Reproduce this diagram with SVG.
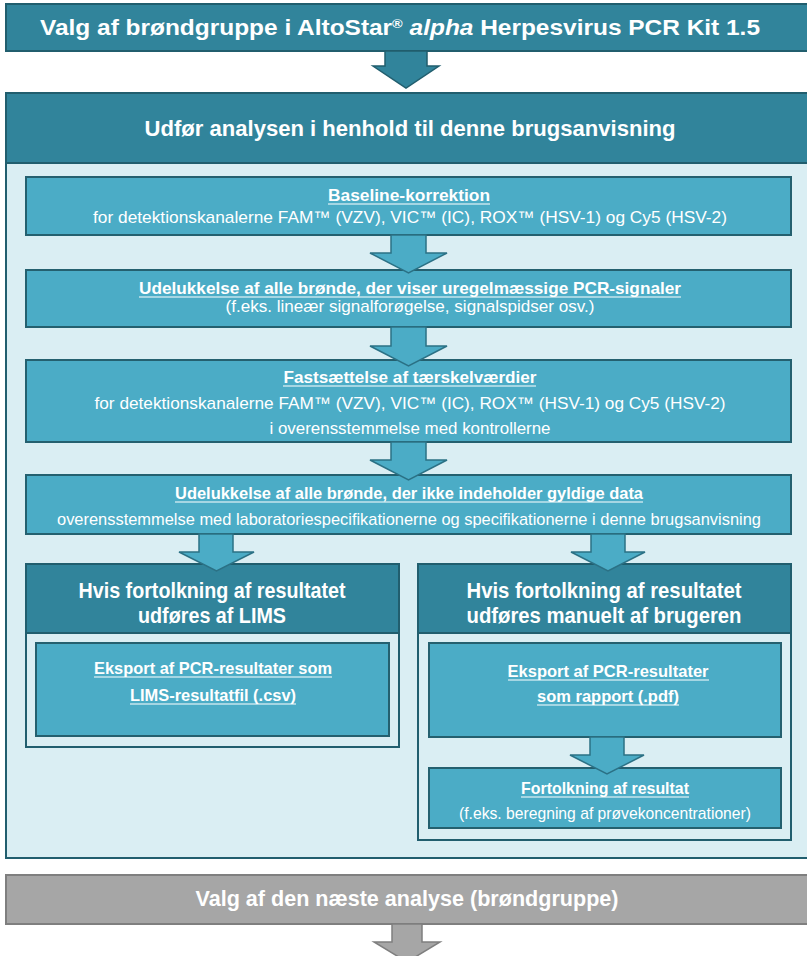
<svg xmlns="http://www.w3.org/2000/svg" width="807" height="956" viewBox="0 0 807 956">
<style>
.dark{fill:#31849B;stroke:#215E6E;stroke-width:2}
.mid{fill:#4BACC6;stroke:#24606F;stroke-width:2}
.light{fill:#DAEEF3;stroke:#215E6E;stroke-width:2}
.gray{fill:#A6A6A6;stroke:#7F7F7F;stroke-width:2}
.arr{fill:#4BACC6;stroke:#2B7185;stroke-width:1.5}
.arrd{fill:#31849B;stroke:#215E6E;stroke-width:1.5}
.arrg{fill:#A6A6A6;stroke:#7F7F7F;stroke-width:1.5}
text{font-family:"Liberation Sans Narrow","Liberation Sans",Arial,sans-serif;fill:#FFFFFF;text-anchor:middle}
.t{font-size:22px;font-weight:bold}
.h{font-size:22px;font-weight:bold}
.b{font-size:17px;font-weight:bold}
.r{font-size:17px}
.ul{stroke:#FFFFFF;stroke-width:1.2}
</style>
<rect width="807" height="956" fill="#FFFFFF"/>
<g id="title">
<rect class="dark" x="6" y="4" width="810" height="47"/>
<text class="t" x="400" y="35" textLength="720" lengthAdjust="spacingAndGlyphs">Valg af brøndgruppe i AltoStar<tspan font-size="13" dy="-7">®</tspan><tspan dy="7"> </tspan><tspan font-style="italic">alpha</tspan> Herpesvirus PCR Kit 1.5</text>
</g>
<g id="analysis">
<rect class="light" x="6" y="93" width="810" height="765"/>
<rect class="dark" x="6" y="93" width="810" height="70"/>
<text class="t" x="410" y="136" textLength="531" lengthAdjust="spacingAndGlyphs">Udfør analysen i henhold til denne brugsanvisning</text>
</g>
<g id="baseline">
<rect class="mid" x="26" y="177" width="765" height="58"/>
<text class="b" x="409" y="201" textLength="162" lengthAdjust="spacingAndGlyphs">Baseline-korrektion</text>
<line class="ul" x1="328" y1="204" x2="490" y2="204"/>
<text class="r" x="410" y="223" textLength="634" lengthAdjust="spacingAndGlyphs">for detektionskanalerne FAM™ (VZV), VIC™ (IC), ROX™ (HSV-1) og Cy5 (HSV-2)</text>
</g>
<g id="exclude-irregular">
<rect class="mid" x="26" y="270" width="765" height="57"/>
<text class="b" x="410" y="294" textLength="542" lengthAdjust="spacingAndGlyphs">Udelukkelse af alle brønde, der viser uregelmæssige PCR-signaler</text>
<line class="ul" x1="139" y1="297" x2="681" y2="297"/>
<text class="r" x="410" y="312" textLength="369" lengthAdjust="spacingAndGlyphs">(f.eks. lineær signalforøgelse, signalspidser osv.)</text>
</g>
<g id="threshold">
<rect class="mid" x="26" y="360" width="765" height="82"/>
<text class="b" x="410" y="383" textLength="253" lengthAdjust="spacingAndGlyphs">Fastsættelse af tærskelværdier</text>
<line class="ul" x1="283" y1="386" x2="536" y2="386"/>
<text class="r" x="410" y="409" textLength="631" lengthAdjust="spacingAndGlyphs">for detektionskanalerne FAM™ (VZV), VIC™ (IC), ROX™ (HSV-1) og Cy5 (HSV-2)</text>
<text class="r" x="410" y="434" textLength="281" lengthAdjust="spacingAndGlyphs">i overensstemmelse med kontrollerne</text>
</g>
<g id="exclude-invalid">
<rect class="mid" x="26" y="475" width="765" height="59"/>
<text class="b" x="409" y="499" textLength="468" lengthAdjust="spacingAndGlyphs">Udelukkelse af alle brønde, der ikke indeholder gyldige data</text>
<line class="ul" x1="175" y1="502" x2="643" y2="502"/>
<text class="r" x="409" y="525" textLength="704" lengthAdjust="spacingAndGlyphs">overensstemmelse med laboratoriespecifikationerne og specifikationerne i denne brugsanvisning</text>
</g>
<g id="lims-group">
<rect class="light" x="26" y="564" width="373" height="183"/>
<rect class="dark" x="26" y="564" width="373" height="69"/>
<text class="h" x="212" y="598" textLength="267" lengthAdjust="spacingAndGlyphs">Hvis fortolkning af resultatet</text>
<text class="h" x="212" y="623" textLength="148" lengthAdjust="spacingAndGlyphs">udføres af LIMS</text>
</g>
<g id="lims-export">
<rect class="mid" x="36" y="643" width="353" height="93"/>
<text class="b" x="213" y="674" textLength="238" lengthAdjust="spacingAndGlyphs">Eksport af PCR-resultater som</text>
<line class="ul" x1="94" y1="677" x2="332" y2="677"/>
<text class="b" x="213" y="701" textLength="166" lengthAdjust="spacingAndGlyphs">LIMS-resultatfil (.csv)</text>
<line class="ul" x1="130" y1="704" x2="296" y2="704"/>
</g>
<g id="manual-group">
<rect class="light" x="418" y="564" width="373" height="276"/>
<rect class="dark" x="418" y="564" width="373" height="69"/>
<text class="h" x="604" y="598" textLength="275" lengthAdjust="spacingAndGlyphs">Hvis fortolkning af resultatet</text>
<text class="h" x="604" y="623" textLength="275" lengthAdjust="spacingAndGlyphs">udføres manuelt af brugeren</text>
</g>
<g id="report-export">
<rect class="mid" x="429" y="643" width="352" height="94"/>
<text class="b" x="608" y="677" textLength="201" lengthAdjust="spacingAndGlyphs">Eksport af PCR-resultater</text>
<line class="ul" x1="508" y1="680" x2="709" y2="680"/>
<text class="b" x="608" y="702" textLength="142" lengthAdjust="spacingAndGlyphs">som rapport (.pdf)</text>
<line class="ul" x1="537" y1="705" x2="679" y2="705"/>
</g>
<g id="interpretation">
<rect class="mid" x="429" y="768" width="352" height="60"/>
<text class="b" x="605" y="794" textLength="168" lengthAdjust="spacingAndGlyphs">Fortolkning af resultat</text>
<line class="ul" x1="521" y1="797" x2="689" y2="797"/>
<text class="r" x="605" y="819" textLength="292" lengthAdjust="spacingAndGlyphs">(f.eks. beregning af prøvekoncentrationer)</text>
</g>
<g id="next">
<rect class="gray" x="6" y="875" width="810" height="49"/>
<text class="t" x="407" y="906" textLength="423" lengthAdjust="spacingAndGlyphs">Valg af den næste analyse (brøndgruppe)</text>
</g>
<g id="connectors">
<path class="arrd" d="M385 51 L427 51 L427 66 L439 66 L406 88 L373 66 L385 66 Z"/>
<path class="arr" d="M391 235 L426 235 L426 253 L447 253 L408.5 273 L370 253 L391 253 Z"/>
<path class="arr" d="M391 327 L426 327 L426 346 L447 346 L408.5 366 L370 346 L391 346 Z"/>
<path class="arr" d="M391 442 L426 442 L426 460 L447 460 L408.5 480 L370 460 L391 460 Z"/>
<path class="arr" d="M199 534 L233 534 L233 552 L254 552 L216.5 571 L179 552 L199 552 Z"/>
<path class="arr" d="M591 534 L625 534 L625 552 L645 552 L608 571 L571 552 L591 552 Z"/>
<path class="arr" d="M590 737 L624 737 L624 755 L644 755 L607 774 L570 755 L590 755 Z"/>
<path class="arrg" d="M392 924 L422 924 L422 942 L440 942 L407 962 L374 942 L392 942 Z"/>
</g>
</svg>
